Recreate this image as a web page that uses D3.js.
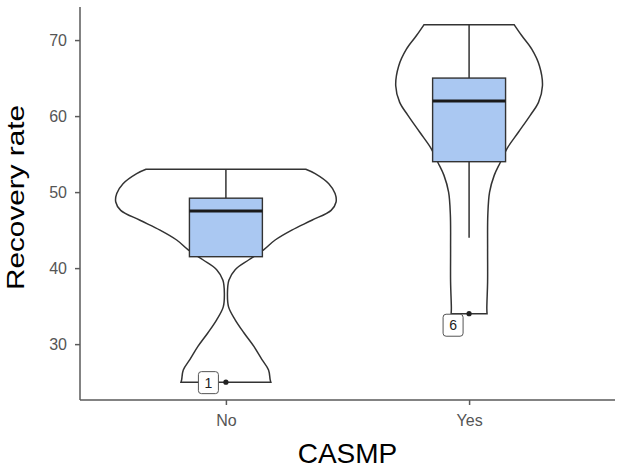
<!DOCTYPE html>
<html>
<head>
<meta charset="utf-8">
<script src="https://cdn.jsdelivr.net/npm/d3@7"></script>
<style>
  html, body { margin: 0; padding: 0; background: #fff; }
  svg { display: block; }
</style>
</head>
<body>
<svg id="chart" width="624" height="468"></svg>
<script>
// ---------- data ----------
const categories = ["No", "Yes"];
const yTicks = [30, 40, 50, 60, 70];

// violin profiles: value along y, relative density (width)
const violinNoValues  = [53.0, 52.43, 51.1, 49.8, 48.7, 47.6, 46.3, 45.0, 43.7, 42.4, 41.1, 39.8, 38.4, 36.7, 34.9, 33.2, 31.5, 29.7, 28.0, 26.6, 25.3, 25.0];
const violinNoDensity = [0.725, 0.81, 0.934, 0.991, 1.0, 0.955, 0.78, 0.598, 0.447, 0.342, 0.209, 0.084, 0.027, 0.014, 0.024, 0.084, 0.163, 0.254, 0.326, 0.387, 0.402, 0.408];
const violinYesValues  = [72.0, 70.56, 68.8, 66.6, 64.0, 61.8, 60.1, 57.9, 55.7, 53.9, 52.2, 50.0, 47.0, 42.6, 38.2, 34.7, 34.0];
const violinYesDensity = [0.41, 0.479, 0.569, 0.639, 0.666, 0.63, 0.555, 0.449, 0.343, 0.283, 0.228, 0.186, 0.17, 0.168, 0.168, 0.161, 0.163];

// box statistics per category
const whiskerLow  = [41.5, 44.0];
const q1          = [41.5, 54.0];
const medians     = [47.5, 62.0];
const q3          = [49.2, 65.0];
const whiskerHigh = [53.0, 72.0];

// outliers
const outlierValues = [25, 34];
const outlierLabels = ["1", "6"];

// ---------- layout ----------
const svg = d3.select("#chart");
const mLeft = 80, mRight = 615, mTop = 7, mBottom = 400;

const y = d3.scaleLinear().domain([22.65, 74.35]).range([mBottom, mTop]);
const x = d3.scalePoint().domain(categories).range([mLeft, mRight]).padding(0.6);
const step = x.step();
const wScale = d3.scaleLinear().domain([0, 1]).range([0, 0.453 * step]);
const boxHalf = 0.15 * step;

const dark = "#333333";
const axisCol = "#5a5a5a";
const boxFill = "#aac8f2";

const violins = [
  { cat: "No",  v: violinNoValues,  d: violinNoDensity },
  { cat: "Yes", v: violinYesValues, d: violinYesDensity }
];

// violins
violins.forEach(vl => {
  const cx = x(vl.cat);
  const pts = vl.v.map((val, i) => ({ val, den: vl.d[i] }));
  const area = d3.area()
    .y(p => y(p.val))
    .x0(p => cx - wScale(p.den))
    .x1(p => cx + wScale(p.den))
    .curve(d3.curveCatmullRom.alpha(0.5));
  svg.append("path")
    .attr("d", area(pts))
    .attr("fill", "#fff")
    .attr("stroke", dark)
    .attr("stroke-width", 1.5);
});

// boxplots
categories.forEach((cat, i) => {
  const cx = x(cat);
  const g = svg.append("g");
  g.append("line")
    .attr("x1", cx).attr("x2", cx)
    .attr("y1", y(q3[i])).attr("y2", y(whiskerHigh[i]))
    .attr("stroke", dark).attr("stroke-width", 1.5);
  g.append("line")
    .attr("x1", cx).attr("x2", cx)
    .attr("y1", y(q1[i])).attr("y2", y(whiskerLow[i]))
    .attr("stroke", dark).attr("stroke-width", 1.5);
  g.append("rect")
    .attr("x", cx - boxHalf)
    .attr("width", 2 * boxHalf)
    .attr("y", y(q3[i]))
    .attr("height", y(q1[i]) - y(q3[i]))
    .attr("fill", boxFill)
    .attr("stroke", dark)
    .attr("stroke-width", 1.4);
  g.append("line")
    .attr("x1", cx - boxHalf).attr("x2", cx + boxHalf)
    .attr("y1", y(medians[i])).attr("y2", y(medians[i]))
    .attr("stroke", "#1a1a1a").attr("stroke-width", 3);
});

// outliers and labels
const labelOffsets = [[-17.5, 0.5], [-16, 11.5]];
categories.forEach((cat, i) => {
  const cx = x(cat);
  const cy = y(outlierValues[i]);
  svg.append("circle")
    .attr("cx", cx).attr("cy", cy).attr("r", 2.6)
    .attr("fill", "#222");
  const lx = cx + labelOffsets[i][0];
  const ly = cy + labelOffsets[i][1];
  svg.append("rect")
    .attr("x", lx - 10).attr("y", ly - 11)
    .attr("width", 20).attr("height", 22)
    .attr("rx", 3).attr("ry", 3)
    .attr("fill", "#fff")
    .attr("stroke", "#555")
    .attr("stroke-width", 1);
  svg.append("text")
    .attr("x", lx).attr("y", ly)
    .attr("dy", "0.36em")
    .attr("text-anchor", "middle")
    .attr("font-family", "Liberation Sans, Arial, sans-serif")
    .attr("font-size", 14)
    .attr("fill", "#222")
    .text(outlierLabels[i]);
});

// axes
const yAxis = d3.axisLeft(y).tickValues(yTicks).tickSize(5).tickPadding(8);
const xAxis = d3.axisBottom(x).tickSize(5).tickPadding(10);

const gy = svg.append("g").attr("transform", `translate(${mLeft},0)`).call(yAxis);
gy.select(".domain").attr("d", `M0,${mTop}V${mBottom}`);
const gx = svg.append("g").attr("transform", `translate(0,${mBottom})`).call(xAxis);
gx.select(".domain").attr("d", `M${mLeft},0H${mRight}`);

[gx, gy].forEach(g => {
  g.select(".domain").attr("stroke", axisCol).attr("stroke-width", 1.5);
  g.selectAll(".tick line").attr("stroke", axisCol).attr("stroke-width", 1.5);
  g.selectAll(".tick text")
    .attr("fill", "#555555")
    .attr("font-family", "Liberation Sans, Arial, sans-serif")
    .attr("font-size", 16);
});

// axis titles
svg.append("text")
  .attr("x", (mLeft + mRight) / 2)
  .attr("y", 462.5)
  .attr("text-anchor", "middle")
  .attr("font-family", "Liberation Sans, Arial, sans-serif")
  .attr("font-size", 28)
  .attr("fill", "#000")
  .text("CASMP");

svg.append("text")
  .attr("transform", "translate(23.5,197.5) rotate(-90)")
  .attr("text-anchor", "middle")
  .attr("font-family", "Liberation Sans, Arial, sans-serif")
  .attr("font-size", 24)
  .attr("textLength", 185)
  .attr("lengthAdjust", "spacingAndGlyphs")
  .attr("fill", "#000")
  .text("Recovery rate");
</script>
</body>
</html>
